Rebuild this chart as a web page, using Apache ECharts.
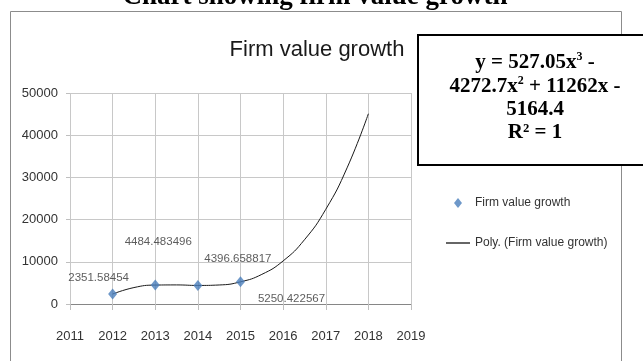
<!DOCTYPE html>
<html><head><meta charset="utf-8">
<script src="https://cdn.jsdelivr.net/npm/echarts@6/dist/echarts.min.js"></script>
<style>html,body{margin:0;padding:0;background:#fff}#c{width:643px;height:361px}</style>
</head><body><div id="c"></div>
<script>
var years = [2012, 2013, 2014, 2015];
var values = [2351.58454, 4484.483496, 4396.658817, 5250.422567];
var labelTexts = ['2351.58454', '4484.483496', '4396.658817', '5250.422567'];
var trendYears = [2012, 2012.5, 2013, 2013.5, 2014, 2014.5, 2015, 2015.5, 2016, 2016.5, 2017, 2017.5, 2018];
var trendValues = [2352, 3894, 4484, 4521, 4397, 4509, 5250, 7020, 10210, 15215, 22434, 32258, 45085];
var xTicks = [2011, 2012, 2013, 2014, 2015, 2016, 2017, 2018, 2019];
var yTicks = [0, 10000, 20000, 30000, 40000, 50000];
var labelOffsets = [[-14, -16], [3, -43], [40, -27], [51, 17]];

var FONT = "'Liberation Sans',Arial,sans-serif";
var SERIF_B = "bold 21px 'Liberation Serif','Times New Roman',serif";
var SERIF_S = "bold 12px 'Liberation Serif','Times New Roman',serif";
var chart = echarts.init(document.getElementById('c'), null, {renderer: 'canvas'});
chart.setOption({
  animation: false,
  backgroundColor: '#fff',
  grid: {left: 70, right: 232, top: 93, bottom: 57, containLabel: false},
  title: [{
    text: 'Firm value growth', left: 312, top: 34, textAlign: 'center',
    textStyle: {fontFamily: FONT, fontSize: 22, fontWeight: 'normal', color: '#1a1a1a'}
  }],
  xAxis: {
    type: 'value', min: xTicks[0], max: xTicks[xTicks.length - 1], interval: 1,
    axisLine: {show: true, lineStyle: {color: '#868686'}},
    axisTick: {show: true, length: 6, lineStyle: {color: '#bfbfbf'}},
    splitLine: {show: true, lineStyle: {color: '#c8c8c8'}},
    axisLabel: {margin: 26, fontFamily: FONT, fontSize: 13, color: '#333', formatter: function (v) { return String(v); }}
  },
  yAxis: {
    type: 'value', min: yTicks[0], max: yTicks[yTicks.length - 1], interval: 10000,
    axisLine: {show: false},
    axisTick: {show: true, length: 4, lineStyle: {color: '#bfbfbf'}},
    splitLine: {show: true, lineStyle: {color: '#c8c8c8'}},
    axisLabel: {margin: 12, fontFamily: FONT, fontSize: 13, color: '#333', formatter: function (v) { return String(v); }}
  },
  legend: {
    orient: 'vertical', left: 441, top: 192, itemGap: 28, itemWidth: 24, itemHeight: 10,
    textStyle: {fontFamily: FONT, fontSize: 12, color: '#333'},
    data: [
      {name: 'Firm value growth', icon: 'path://M12,0L16,5L12,10L8,5Z'},
      {name: 'Poly. (Firm value growth)', icon: 'path://M0,4.4H24V5.6H0Z', itemStyle: {color: '#000'}}
    ]
  },
  series: [
    {
      name: 'Poly. (Firm value growth)', type: 'line', smooth: true, symbol: 'none',
      lineStyle: {color: '#1a1a1a', width: 1},
      itemStyle: {color: '#000'},
      data: trendYears.map(function (y, i) { return [y, trendValues[i]]; }),
      z: 2
    },
    {
      name: 'Firm value growth', type: 'scatter', symbol: 'diamond', symbolSize: [9, 11],
      itemStyle: {color: '#4a7ebb'},
      data: years.map(function (y, i) {
        return {value: [y, values[i]], label: {show: true, position: 'inside', offset: labelOffsets[i], formatter: labelTexts[i]}};
      }),
      label: {fontFamily: FONT, fontSize: 11.5, color: '#333'},
      z: 3
    }
  ],
  graphic: [
    {type: 'rect', shape: {x: 10.5, y: 11.5, width: 611, height: 400}, style: {fill: 'none', stroke: '#8c8c8c', lineWidth: 1}, z: 0, silent: true},
    {type: 'text', x: 315, y: -3, z: 10, style: {text: 'Chart showing firm value growth', align: 'center', verticalAlign: 'middle', font: "bold 27px 'Liberation Serif','Times New Roman',serif", fill: '#000'}},
    {type: 'rect', shape: {x: 418, y: 35, width: 240, height: 130}, style: {fill: '#fff', stroke: '#000', lineWidth: 2}, z: 20},
    {type: 'text', x: 535, y: 62, z: 21, style: {
      text: '{b|y = 527.05x}{s|3}{b| -}', align: 'center', verticalAlign: 'middle',
      rich: {b: {font: SERIF_B, fill: '#000', lineHeight: 22, verticalAlign: 'bottom'},
             s: {font: SERIF_S, fill: '#000', lineHeight: 22, verticalAlign: 'top'}}
    }},
    {type: 'text', x: 535, y: 86, z: 21, style: {
      text: '{b|4272.7x}{s|2}{b| + 11262x -}', align: 'center', verticalAlign: 'middle',
      rich: {b: {font: SERIF_B, fill: '#000', lineHeight: 22, verticalAlign: 'bottom'},
             s: {font: SERIF_S, fill: '#000', lineHeight: 22, verticalAlign: 'top'}}
    }},
    {type: 'text', x: 535, y: 110, z: 21, style: {text: '5164.4', align: 'center', verticalAlign: 'middle', font: SERIF_B, fill: '#000'}},
    {type: 'text', x: 535, y: 133, z: 21, style: {text: 'R² = 1', align: 'center', verticalAlign: 'middle', font: SERIF_B, fill: '#000'}}
  ]
});
</script></body></html>
